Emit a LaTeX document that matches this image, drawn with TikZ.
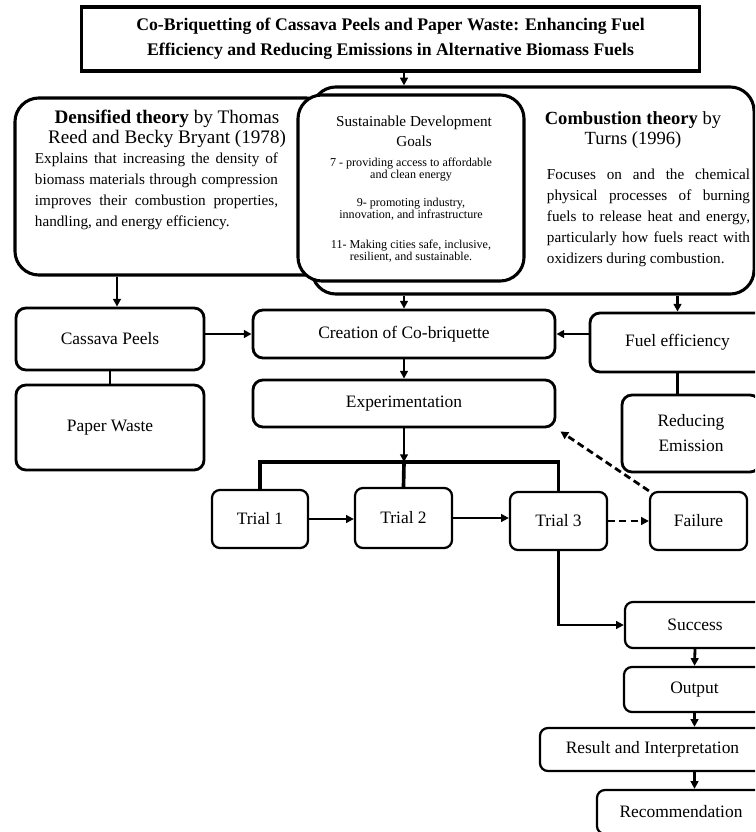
\documentclass[tikz,border=0pt]{standalone}
\usepackage{fontspec}
\setmainfont{Liberation Serif}
\usetikzlibrary{arrows.meta}
\hbadness=10000

\begin{document}
\begin{tikzpicture}[x=0.025cm, y=-0.025cm, >={Triangle[length=5.5pt, width=5.5pt]},
  bigbox/.style={draw, line width=2.2pt, rounded corners=0.6cm, fill=white},
  flowbox/.style={draw, line width=2pt, rounded corners=0.25cm, fill=white,
    inner sep=0pt, align=center, font=\fontsize{12.4}{17.8}\selectfont},
  trialbox/.style={flowbox, line width=1.6pt, rounded corners=0.2cm},
  heading/.style={inner sep=0pt, align=center, font=\fontsize{13.6}{14.6}\selectfont},
  para/.style={inner sep=0pt, align=justify, font=\fontsize{10.8}{15}\selectfont},
  link/.style={line width=2pt},
  buslink/.style={line width=2.6pt},
  dashlink/.style={line width=2pt, dash pattern=on 5pt off 3pt}]
  \useasboundingbox (0,0) rectangle (755,832);
  \clip (0,0) rectangle (755,832);

  \node[bigbox, sharp corners, minimum width=15.425cm, minimum height=1.6cm, align=center,
    font=\bfseries\fontsize{12.6}{17.8}\selectfont] (title) at (390.5,39)
    {Co-Briquetting of Cassava Peels and Paper Waste: Enhancing Fuel\\
     Efficiency and Reducing Emissions in Alternative Biomass Fuels};

  \node[bigbox, minimum width=11.05cm, minimum height=5.175cm] (comb) at (533,190.5) {};
  \node[bigbox, minimum width=7.875cm, minimum height=4.425cm] (dens) at (172.5,186.5) {};
  \node[bigbox, minimum width=5.65cm, minimum height=4.65cm] (sdg) at (411,188) {};

  \node[heading] (denshead) at (167,129)
    {\textbf{Densified theory} by Thomas\\Reed and Becky Bryant (1978)};
  \node[para, text width=6.075cm] (denspara) at (156.5,191)
    {Explains that increasing the density of\linebreak
     biomass materials through compression\linebreak
     improves their combustion properties,\linebreak
     handling, and energy efficiency.};

  \node[inner sep=0pt, align=center, font=\fontsize{10.8}{14.2}\selectfont] (sdghead) at (414,131)
    {Sustainable Development\\Goals};
  \node[inner sep=0pt, align=center, font=\fontsize{8.6}{7.8}\selectfont] (sdggoals) at (411,210)
    {7 - providing access to affordable\\and clean energy\\[11pt]
     9- promoting industry,\\innovation, and infrastructure\\[13pt]
     11- Making cities safe, inclusive,\\resilient, and sustainable.};

  \node[heading, font=\fontsize{13.2}{14.6}\selectfont] (combhead) at (633,130)
    {\textbf{Combustion theory} by\\Turns (1996)};
  \node[para, text width=5.075cm] (combpara) at (648.5,218)
    {Focuses on and the chemical\linebreak
     physical processes of burning\linebreak
     fuels to release heat and energy,\linebreak
     particularly how fuels react with\linebreak
     oxidizers during combustion.};

  \node[flowbox, minimum width=4.7cm, minimum height=1.55cm] (cas) at (110,339) {Cassava Peels};
  \node[flowbox, minimum width=4.7cm, minimum height=2.125cm] (pap) at (110,427.5) {Paper Waste};
  \node[flowbox, minimum width=7.55cm, minimum height=1.2cm] (cre) at (404,334) {Creation of Co-briquette};
  \node[flowbox, minimum width=7.55cm, minimum height=1.175cm] (exp) at (404,403.5) {Experimentation};
  \node[flowbox, minimum width=4.375cm, minimum height=1.475cm] (fuel) at (677.5,342.5) {Fuel efficiency};
  \node[flowbox, minimum width=3.45cm, minimum height=1.925cm] (red) at (691,433.5) {Reducing\\Emission};

  \node[trialbox, minimum width=2.4cm, minimum height=1.45cm] (t1) at (260,519) {Trial 1};
  \node[trialbox, minimum width=2.425cm, minimum height=1.5cm] (t2) at (403.5,518) {Trial 2};
  \node[trialbox, minimum width=2.425cm, minimum height=1.45cm] (t3) at (558.5,521) {Trial 3};
  \node[trialbox, minimum width=2.425cm, minimum height=1.45cm] (fail) at (698.5,521) {Failure};

  \node[trialbox, minimum width=3.5cm, minimum height=1.15cm] (succ) at (695,625) {Success};
  \node[trialbox, minimum width=3.525cm, minimum height=1.125cm] (outp) at (694.5,689.5) {Output};
  \node[trialbox, minimum width=5.625cm, minimum height=1.075cm] (res) at (652.5,749.5) {Result and Interpretation};
  \node[trialbox, minimum width=4.2cm, minimum height=1.1cm] (rec) at (681,812) {Recommendation};

  \coordinate (bus) at (404,462);

  \draw[link, ->] (cre.north |- title.south) -- (cre.north |- comb.north);
  \draw[link, ->] ([xshift=0.175cm]cas.north |- dens.south) -- ([xshift=0.175cm]cas.north);
  \draw[link] (cas.south) -- (pap.north);
  \draw[link, ->] (cas.east |- cre.west) -- (cre.west);
  \draw[link, ->] (fuel.west |- cre.east) -- (cre.east);
  \draw[link, ->] (cre.north |- comb.south) -- (cre.north);
  \draw[link, ->] (fuel.north |- comb.south) -- (fuel.north);
  \draw[link] (fuel.south) -- (fuel.south |- red.north);
  \draw[link, ->] (cre.south) -- (exp.north);

  \draw[link, ->] (exp.south) -- (bus);
  \draw[buslink] (t1.north) -- (t1.north |- bus) -- (t3.north |- bus) -- (t3.north);
  \draw[buslink] (bus) -- (t2.north);
  \draw[link, ->] (t1.east) -- (t1.east -| t2.west);
  \draw[link, ->] (t2.east) -- (t2.east -| t3.west);
  \draw[dashlink, ->] (t3.east) -- (fail.west);
  \draw[dashlink, ->] (fail.north west) -- ([shift={(4,3)}]exp.south east);

  \draw[link, ->] (t3.south) |- (succ.west);
  \draw[link, ->] (succ.south) -- (outp.north);
  \draw[link, ->] (outp.south) -- (outp.south |- res.north);
  \draw[link, ->] (res.south -| outp.south) -- (outp.south |- rec.north);
\end{tikzpicture}
\end{document}
